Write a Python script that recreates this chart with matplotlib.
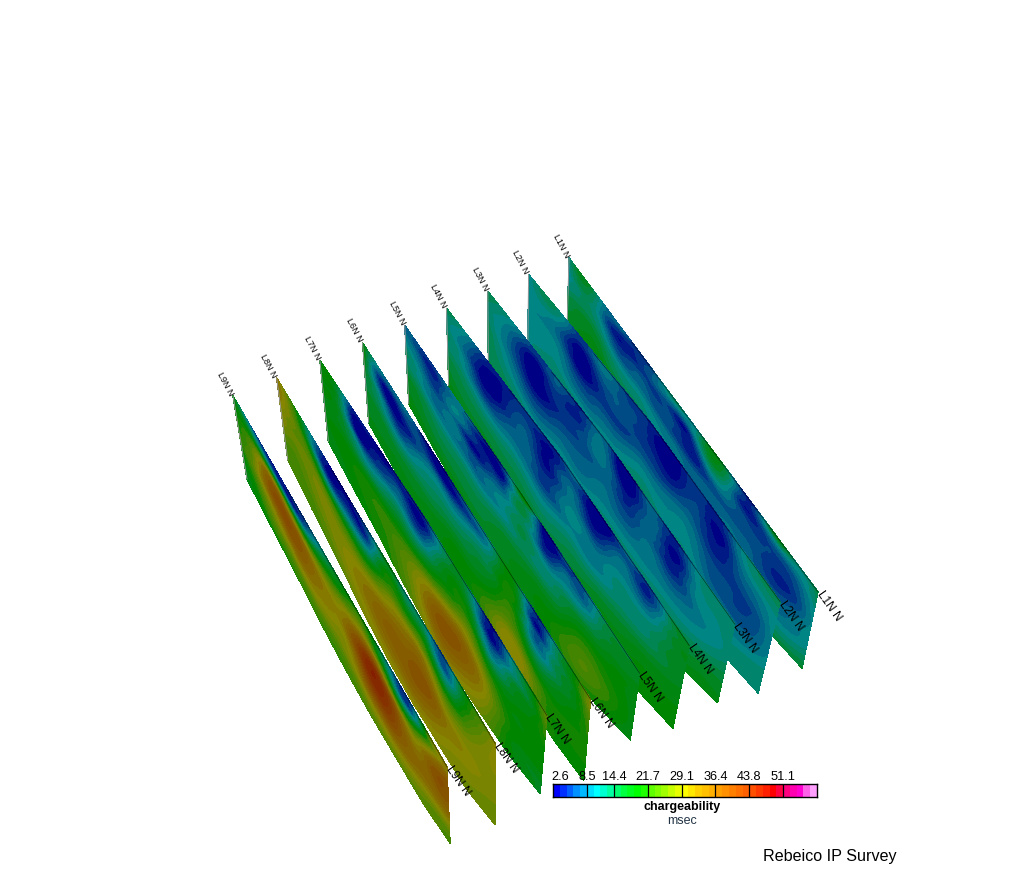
import numpy as np
import matplotlib
matplotlib.use('Agg')
import matplotlib.pyplot as plt
from matplotlib.colors import ListedColormap, BoundaryNorm, to_rgb
from matplotlib.tri import Triangulation, UniformTriRefiner

plt.rcParams['font.family'] = ['Liberation Sans', 'DejaVu Sans']

# chargeability scale
scale_colors = ['#0000ff', '#0030ff', '#0060ff', '#0090ff', '#00b8ff',
                '#00ddff', '#00ffff', '#00ffd0', '#00ffa0',
                '#00ff70', '#00ff40', '#00ff20', '#00ff00', '#20ff00',
                '#60ff00', '#80ff00', '#a0ff00', '#c8ff00', '#e8ff00',
                '#ffff00', '#ffe800', '#ffd000', '#ffc000', '#ffb000',
                '#ffa000', '#ff9000', '#ff8000', '#ff7000', '#ff6000',
                '#ff5000', '#ff3800', '#ff2000', '#ff0000', '#ff0040',
                '#ff0080', '#ff00b0', '#ff00d0', '#ff60e8', '#ffa0ff']
scale_levels = [2.6, 3.78, 4.96, 6.14, 7.32, 8.5, 9.98, 11.45, 12.93, 14.4,
                15.86, 17.32, 18.78, 20.24, 21.7, 23.18, 24.66, 26.14, 27.62,
                29.1, 30.56, 32.02, 33.48, 34.94, 36.4, 37.88, 39.36, 40.84,
                42.32, 43.8, 45.26, 46.72, 48.18, 49.64, 51.1, 52.56, 54.02,
                55.48, 56.94, 58.4]
tick_labels = ['2.6', '8.5', '14.4', '21.7', '29.1', '36.4', '43.8', '51.1']
tick_cells = [0, 5, 9, 14, 19, 24, 29, 34]

line_names = ['L1N N', 'L2N N', 'L3N N', 'L4N N', 'L5N N',
              'L6N N', 'L7N N', 'L8N N', 'L9N N']

# depth slices down each section, as fraction of section depth
depth_rows = [0, 0.12, 0.25, 0.4, 0.6, 0.8, 1]

# bottom edge of the sections bows out, more on some lines
depth_stretch = [1, 1.1, 1.18, 1.3, 1.35, 1.35, 1.28, 1.2, 1]
line_bow = [0.6, 0.6, 0.6, 0.6, 0.6, 0.6, 0.6, 1, 0.6]
# surface relief of each line and depth at its far end
line_lift = [0, 11, 10, 10, 4, 0, 6, 0, 0]
end_depth = [1, 1.04, 0.9, 0.95, 0.82, 1.05, 0.94, 1.05, 1]

L1 = [[11, 17, 9, 8, 5, 8, 13, 10, 18, 8, 5, 17, 12, 15],
      [10, 15, 8, 4, 5, 7, 5, 7, 16, 8, 4, 7, 8, 13],
      [10, 13, 9, 5, 7, 6, 6, 4, 9, 8, 6, 6, 6, 11],
      [12, 14, 12, 8, 9, 8, 7, 6, 7, 7, 7, 5, 5, 10],
      [15, 17, 16, 13, 13, 11, 10, 8, 8, 9, 8, 7, 8, 11],
      [16, 18, 19, 18, 17, 16, 15, 12, 11, 11, 10, 10, 10, 12],
      [14, 17, 18, 19, 19, 18, 18, 16, 14, 13, 14, 15, 15, 16]]
L2 = [[10, 14, 10, 5, 9, 6, 5, 4, 3, 6, 4, 9, 13, 14],
      [10, 12, 8, 3, 7, 7, 6, 3, 3, 6, 3, 7, 11, 12],
      [10, 10, 6, 3, 5, 7, 6, 5, 5, 7, 4, 6, 8, 11],
      [10, 10, 8, 4, 6, 6, 8, 8, 9, 9, 6, 6, 6, 10],
      [10, 11, 10, 8, 9, 10, 12, 12, 11, 11, 8, 7, 7, 10],
      [11, 12, 13, 13, 13, 14, 16, 15, 13, 12, 10, 10, 11, 12],
      [11, 12, 14, 15, 15, 16, 17, 16, 14, 13, 12, 12, 12, 12]]
L3 = [[14, 12, 8, 5, 7, 4, 8, 4, 3, 8, 4, 9, 12, 12],
      [13, 10, 5, 3, 6, 4, 9, 5, 3, 8, 3, 8, 12, 12],
      [12, 9, 4, 3, 5, 6, 8, 7, 5, 8, 4, 8, 11, 12],
      [13, 9, 5, 3, 6, 7, 8, 8, 7, 9, 7, 8, 10, 12],
      [14, 11, 8, 7, 9, 9, 10, 11, 11, 11, 11, 11, 12, 14],
      [14, 13, 12, 11, 13, 14, 14, 15, 15, 15, 15, 15, 16, 16],
      [15, 16, 15, 16, 16, 17, 17, 17, 17, 17, 18, 18, 18, 18]]
L4 = [[14, 11, 6, 4, 5, 6, 4, 8, 3, 3, 8, 5, 13, 17],
      [12, 9, 4, 3, 6, 5, 4, 8, 3, 5, 8, 5, 13, 17],
      [12, 8, 3, 3, 7, 6, 4, 9, 6, 8, 10, 9, 14, 17],
      [13, 10, 5, 6, 8, 7, 6, 10, 9, 10, 12, 12, 15, 17],
      [14, 13, 11, 11, 12, 11, 11, 13, 13, 14, 15, 16, 17, 18],
      [16, 15, 15, 15, 15, 15, 15, 16, 17, 18, 18, 19, 19, 19],
      [18, 17, 17, 17, 17, 18, 18, 18, 19, 19, 19, 19, 19, 19]]
L5 = [[8, 6, 6, 9, 8, 4, 7, 20, 3, 6, 6, 12, 15, 17],
      [9, 6, 5, 10, 6, 3, 6, 15, 4, 7, 7, 13, 16, 17],
      [11, 8, 6, 8, 3, 6, 9, 13, 7, 10, 11, 15, 17, 18],
      [13, 10, 8, 9, 7, 9, 11, 14, 12, 14, 17, 18, 19, 18],
      [15, 14, 12, 12, 12, 13, 15, 16, 17, 18, 22, 22, 20, 18],
      [17, 16, 15, 15, 15, 16, 17, 18, 19, 21, 24, 24, 21, 18],
      [19, 18, 18, 18, 18, 18, 19, 19, 20, 20, 21, 20, 19, 18]]
L6 = [[18, 10, 8, 8, 3, 3, 6, 9, 14, 18, 5, 9, 18, 28],
      [18, 5, 3, 6, 5, 3, 5, 8, 15, 19, 4, 10, 17, 27],
      [17, 6, 3, 5, 9, 9, 10, 13, 17, 20, 8, 12, 17, 24],
      [16, 11, 6, 9, 12, 13, 14, 16, 19, 22, 12, 14, 18, 22],
      [16, 15, 13, 14, 15, 17, 18, 19, 24, 27, 21, 19, 20, 21],
      [17, 17, 17, 17, 18, 19, 20, 21, 27, 30, 27, 21, 20, 20],
      [18, 18, 18, 19, 19, 19, 19, 20, 24, 25, 24, 21, 19, 19]]
L7 = [[18, 17, 5, 4, 3, 5, 4, 10, 16, 11, 3, 9, 17, 26],
      [18, 16, 3, 3, 5, 6, 3, 11, 18, 13, 3, 9, 15, 24],
      [18, 16, 6, 5, 8, 9, 7, 15, 20, 18, 8, 14, 18, 22],
      [18, 17, 13, 11, 14, 15, 15, 20, 24, 25, 16, 17, 19, 20],
      [18, 19, 19, 20, 21, 23, 27, 32, 35, 33, 26, 20, 19, 19],
      [18, 19, 20, 21, 22, 25, 30, 36, 36, 33, 28, 21, 18, 18],
      [18, 18, 19, 20, 21, 23, 27, 30, 30, 28, 25, 20, 18, 17]]
L8 = [[32, 22, 12, 5, 3, 4, 8, 18, 12, 14, 5, 14, 22, 30],
      [32, 24, 13, 4, 4, 4, 9, 20, 16, 16, 7, 14, 24, 30],
      [31, 26, 20, 10, 9, 10, 15, 23, 23, 23, 14, 18, 26, 30],
      [29, 26, 26, 22, 20, 20, 24, 30, 32, 32, 24, 24, 28, 29],
      [27, 25, 27, 28, 28, 30, 33, 35, 36, 37, 32, 30, 29, 28],
      [24, 24, 25, 27, 29, 31, 33, 34, 35, 34, 31, 29, 28, 27],
      [24, 24, 24, 25, 26, 28, 28, 29, 29, 29, 28, 27, 27, 27]]
L9 = [[18, 8, 5, 4, 5, 7, 13, 17, 20, 17, 9, 6, 24, 30],
      [19, 16, 12, 8, 6, 11, 17, 21, 26, 20, 10, 8, 24, 33],
      [20, 24, 30, 28, 22, 22, 24, 28, 33, 32, 20, 20, 32, 37],
      [21, 26, 36, 38, 36, 32, 30, 33, 42, 44, 36, 30, 36, 37],
      [20, 25, 30, 34, 35, 32, 30, 30, 38, 42, 38, 34, 34, 34],
      [18, 21, 25, 26, 27, 27, 26, 27, 30, 32, 32, 30, 28, 27],
      [18, 19, 20, 21, 22, 22, 22, 23, 24, 25, 25, 25, 25, 24]]
sections = [L1, L2, L3, L4, L5, L6, L7, L8, L9]


def fit_view(corners):
    """Projective map from (line index, along line fraction) to screen."""
    rows, rhs = [], []
    for (s, u), (x, y) in corners:
        rows.append([s, u, 1, 0, 0, 0, -s * x, -u * x])
        rows.append([0, 0, 0, s, u, 1, -s * y, -u * y])
        rhs += [x, y]
    h = np.linalg.solve(np.array(rows, float), np.array(rhs, float))
    return np.append(h, 1).reshape(3, 3)


def project(h, s, u):
    w = h[2, 0] * s + h[2, 1] * u + h[2, 2]
    return ((h[0, 0] * s + h[0, 1] * u + h[0, 2]) / w,
            (h[1, 0] * s + h[1, 1] * u + h[1, 2]) / w)


top_view = fit_view([((0, 0), (569, 258)), ((8, 0), (233, 396)),
                     ((0, 1), (818, 592)), ((8, 1), (447, 767))])
bottom_view = fit_view([((0, 0), (567, 330)), ((8, 0), (247, 479)),
                        ((0, 1), (802, 668)), ((8, 1), (450, 843))])


def section_xy(line, u, v):
    tx, ty = project(top_view, line, u)
    lift = line_lift[line] * np.interp(u, [0, 0.5, 1], [0, 1, 1])
    tx = tx + 0.6 * lift
    ty = ty - lift
    bx, by = project(bottom_view, line, u)
    bow = np.interp(u, np.linspace(0, 1, len(depth_stretch)), depth_stretch)
    d = v * (1 + line_bow[line] * (bow - 1))
    d = d * np.interp(u, [0.7, 1], [1, end_depth[line]])
    return tx + d * (bx - tx), ty + d * (by - ty)


fig = plt.figure(figsize=(10.24, 8.89), dpi=100)
ax = fig.add_axes([0, 0, 1, 1])
ax.set_xlim(0, 1024)
ax.set_ylim(889, 0)
ax.axis('off')

# sections get the scale colours darkened by the scene lighting
lit_colors = [tuple(0.52 * c for c in to_rgb(col)) for col in scale_colors]
draw_levels = [-5] + scale_levels[1:-1] + [90]

for line, grid in enumerate(sections):
    z = np.array(grid, float)
    uu, vv = np.meshgrid(np.linspace(0, 1, z.shape[1]), depth_rows)
    tri = Triangulation(uu.ravel(), vv.ravel())
    fine, fine_z = UniformTriRefiner(tri).refine_field(z.ravel(), subdiv=3)
    px, py = section_xy(line, fine.x, fine.y)
    screen = Triangulation(px, py, fine.triangles)
    cs = ax.tricontourf(screen, fine_z, levels=draw_levels, colors=lit_colors,
                        zorder=2 + line)
    cs.set_edgecolor('face')
    cs.set_linewidth(0.3)

    # edge lines and the labels at both ends of the line
    edge_u = np.linspace(0, 1, 30)
    ex, ey = section_xy(line, edge_u, 0 * edge_u)
    ax.plot(ex[8:], ey[8:], color='black', lw=0.4, alpha=0.7, zorder=2 + line)
    lx, ly = section_xy(line, np.zeros(2), np.array([0, 1.0]))
    ax.plot(lx, ly, color='#999999', lw=0.7, zorder=2 + line)
    ax.text(ex[0] - 2, ey[0] - 1, line_names[line], fontsize=6.5, rotation=-62,
            rotation_mode='anchor', ha='right', va='center', zorder=20)
    ax.text(ex[-1] + 1, ey[-1], line_names[line], fontsize=8.5, rotation=-55,
            rotation_mode='anchor', ha='left', va='center', zorder=20)

# colour bar
cax = fig.add_axes([553 / 1024, 1 - 797 / 889, 264 / 1024, 13 / 889])
cells = np.arange(len(scale_colors) + 1)
cax.pcolormesh(cells, [0, 1], cells[:-1][np.newaxis],
               cmap=ListedColormap(scale_colors),
               norm=BoundaryNorm(cells, len(scale_colors)))
cax.set_xlim(0, len(scale_colors))
cax.set_ylim(0, 1)
cax.set_yticks([])
cax.xaxis.tick_top()
cax.set_xticks(tick_cells[1:])
cax.set_xticklabels(tick_labels[1:], fontsize=9.2)
cax.tick_params(axis='x', length=0, pad=1)
cax.text(-0.008, 1.1, tick_labels[0], fontsize=9.2, transform=cax.transAxes,
         ha='left', va='bottom')
for c in tick_cells[1:]:
    cax.axvline(c, color='black', lw=0.9)
for spine in cax.spines.values():
    spine.set_linewidth(1)

ax.text(682, 807, 'chargeability', fontsize=9, fontweight='bold',
        ha='center', va='center', zorder=30)
ax.text(682, 821, 'msec', fontsize=9, color='#223344', ha='center',
        va='center', zorder=30)
ax.text(763, 857, 'Rebeico IP Survey', fontsize=11.6, ha='left', va='center',
        zorder=30)

fig.savefig('out.png', dpi=100)
